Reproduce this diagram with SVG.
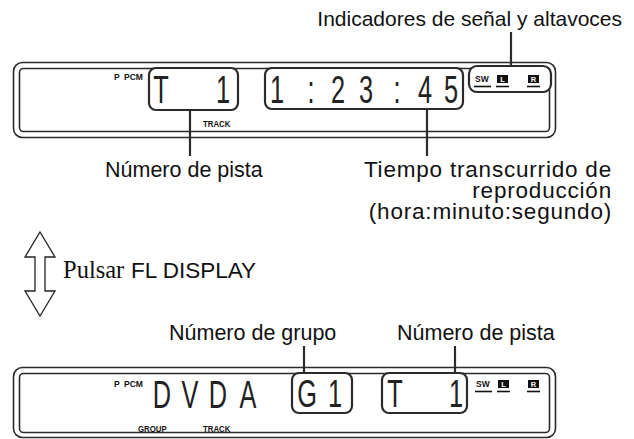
<svg xmlns="http://www.w3.org/2000/svg" width="634" height="439" viewBox="0 0 634 439">
<style>
.frame{fill:none;stroke:#2b2b2b;stroke-width:1.6}
.box{fill:#fff;stroke:#2b2b2b;stroke-width:2.2}
.lead{stroke:#2b2b2b;stroke-width:2.2;fill:none}
.ul{stroke:#111;stroke-width:1.6}
.lbl{font-family:"Liberation Sans",Arial,sans-serif;font-size:21.5px;fill:#111}
.lbl2{font-family:"Liberation Sans",Arial,sans-serif;font-size:22.5px;letter-spacing:0.8px;fill:#111;text-anchor:end}
.seg{font-family:"Liberation Sans",Arial,sans-serif;font-size:39px;fill:#222;text-anchor:middle}
.sm{font-family:"Liberation Sans",Arial,sans-serif;font-size:8.5px;font-weight:bold;fill:#111}
.smw{font-family:"Liberation Sans",Arial,sans-serif;font-size:7.5px;font-weight:bold;fill:#fff;text-anchor:middle}
.blk{fill:#111}
</style>

<g id="connectors">
<line class="lead" x1="511" y1="32" x2="511" y2="66"/>
<line class="lead" x1="190" y1="111" x2="190" y2="156"/>
<line class="lead" x1="427" y1="109" x2="427" y2="156"/>
<line class="lead" x1="304" y1="346" x2="304" y2="373"/>
<line class="lead" x1="455" y1="346" x2="455" y2="373"/>
</g>

<g id="display-top">
<rect class="frame" x="13.5" y="62.5" width="542" height="75" rx="9"/>
<rect class="frame" x="19.5" y="68.5" width="530" height="63" rx="4"/>
<text class="sm" x="114" y="80">P</text>
<text class="sm" x="124" y="80">PCM</text>
<text class="sm" x="203" y="127" transform="translate(203 127) scale(0.92 1) translate(-203 -127)">TRACK</text>
</g>

<g id="track-box-top">
<rect class="box" x="149" y="68" width="89" height="42" rx="7"/>
<text class="seg" transform="matrix(0.65 0 0 1 161 103)">T</text>
<text class="seg" transform="matrix(0.65 0 0 1 223 103)">1</text>
</g>

<g id="time-box">
<rect class="box" x="265" y="68" width="198" height="41" rx="7"/>
<text class="seg" transform="matrix(0.65 0 0 1 277 103)">1</text>
<text class="seg" transform="matrix(0.65 0 0 1 311 103)">:</text>
<text class="seg" transform="matrix(0.65 0 0 1 338 103)">2</text>
<text class="seg" transform="matrix(0.65 0 0 1 366 103)">3</text>
<text class="seg" transform="matrix(0.65 0 0 1 397 103)">:</text>
<text class="seg" transform="matrix(0.65 0 0 1 425 103)">4</text>
<text class="seg" transform="matrix(0.65 0 0 1 451 103)">5</text>
</g>

<g id="speaker-box">
<rect class="box" x="469" y="66" width="82" height="26" rx="8"/>
<text class="sm" x="475" y="82">SW</text>
<line class="ul" x1="474" y1="86.5" x2="491" y2="86.5"/>
<rect class="blk" x="497" y="75" width="11" height="8"/>
<text class="smw" x="502.5" y="82">L</text>
<line class="ul" x1="496" y1="86.5" x2="509" y2="86.5"/>
<rect class="blk" x="528" y="75" width="11" height="8"/>
<text class="smw" x="533.5" y="82">R</text>
<line class="ul" x1="527" y1="86.5" x2="540" y2="86.5"/>
</g>

<g id="label-indicadores">
<text class="lbl" x="622" y="26" text-anchor="end" style="font-size:21px">Indicadores de señal y altavoces</text>
</g>
<g id="label-pista-top">
<text class="lbl" x="105" y="177">Número de pista</text>
</g>
<g id="label-tiempo">
<text class="lbl2" x="612" y="177">Tiempo transcurrido de</text>
<text class="lbl2" x="612" y="198">reproducción</text>
<text class="lbl2" x="612" y="219">(hora:minuto:segundo)</text>
</g>

<g id="toggle-arrow">
<polygon points="40,232 55,257 45,257 45,291 55,291 40,316 25,291 35,291 35,257 25,257" fill="#fff" stroke="#222" stroke-width="1.3" stroke-linejoin="miter"/>
</g>
<g id="label-pulsar">
<text x="63" y="278" style="font-family:'Liberation Serif','Times New Roman',serif;font-size:24.5px;fill:#111">Pulsar</text>
<text x="131" y="278" style="font-family:'Liberation Sans',Arial,sans-serif;font-size:22.5px;fill:#111">FL DISPLAY</text>
</g>

<g id="label-grupo">
<text class="lbl" x="169" y="340">Número de grupo</text>
</g>
<g id="label-pista-bottom">
<text class="lbl" x="397" y="340">Número de pista</text>
</g>

<g id="display-bottom">
<rect class="frame" x="13.5" y="367.5" width="542" height="70" rx="9"/>
<rect class="frame" x="19.5" y="373.5" width="530" height="59" rx="4"/>
<text class="sm" x="114" y="387">P</text>
<text class="sm" x="124" y="387">PCM</text>
<text class="seg" transform="matrix(0.65 0 0 1 162 408)">D</text>
<text class="seg" transform="matrix(0.65 0 0 1 190 408)">V</text>
<text class="seg" transform="matrix(0.65 0 0 1 218 408)">D</text>
<text class="seg" transform="matrix(0.65 0 0 1 248 408)">A</text>
<text class="sm" x="138" y="432" transform="translate(138 432) scale(0.92 1) translate(-138 -432)">GROUP</text>
<text class="sm" x="203" y="432" transform="translate(203 432) scale(0.92 1) translate(-203 -432)">TRACK</text>
<text class="sm" x="476" y="387">SW</text>
<line class="ul" x1="475" y1="391.5" x2="492" y2="391.5"/>
<rect class="blk" x="498" y="380" width="11" height="8"/>
<text class="smw" x="503.5" y="387">L</text>
<line class="ul" x1="497" y1="391.5" x2="510" y2="391.5"/>
<rect class="blk" x="528" y="380" width="11" height="8"/>
<text class="smw" x="533.5" y="387">R</text>
<line class="ul" x1="527" y1="391.5" x2="540" y2="391.5"/>
</g>

<g id="group-box">
<rect class="box" x="292" y="373" width="60" height="40" rx="7"/>
<text class="seg" transform="matrix(0.65 0 0 1 307 407)">G</text>
<text class="seg" transform="matrix(0.65 0 0 1 335 407)">1</text>
</g>
<g id="track-box-bottom">
<rect class="box" x="382" y="373" width="85" height="40" rx="7"/>
<text class="seg" transform="matrix(0.65 0 0 1 395 407)">T</text>
<text class="seg" transform="matrix(0.65 0 0 1 456 407)">1</text>
</g>
</svg>
